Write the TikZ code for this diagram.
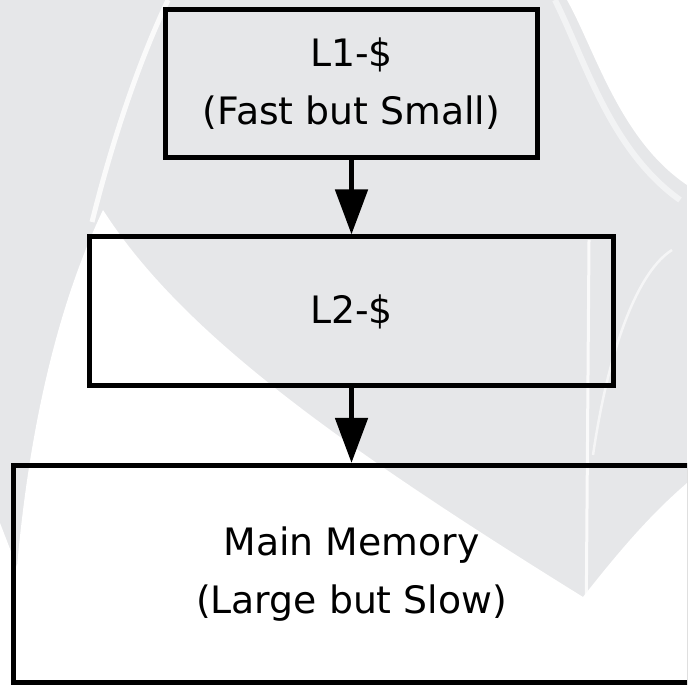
\documentclass[tikz,border=0pt]{standalone}
\usepackage{fontspec}
\setmainfont{DejaVu Sans}
\usetikzlibrary{positioning,arrows.meta}
\definecolor{wmgray}{HTML}{E6E7E9}

\begin{document}
\begin{tikzpicture}[x=0.02cm,y=-0.02cm,
        cache/.style = {draw, line width=0.1cm, align=center, inner sep=0pt,
                        font=\fontsize{21.5}{33}\selectfont},
        link/.style = {line width=0.1cm, -{Triangle[length=0.9cm,width=0.64cm]}},
        node distance={1.49cm}]
        \useasboundingbox (0,0) rectangle (687,688);
        \clip (0,0) rectangle (687,688);
        % watermark behind the boxes
        \fill[wmgray] (0,0) rectangle (687,688);
        \fill[white] (567,0) .. controls (595,50) and (620,140) .. (687,185) -- (687,0) -- cycle;
        \fill[white] (103,210) .. controls (60,300) and (30,420) .. (17,567) -- (0,523) -- (0,688)
                -- (687,688) -- (687,483) .. controls (650,515) and (620,550) .. (583,597)
                .. controls (330,440) and (180,330) .. (103,210) -- cycle;
        \draw[white, line width=0.1cm, opacity=0.8] (168,0) .. controls (135,70) and (110,150) .. (92,222);
        \draw[white, line width=0.12cm, opacity=0.5] (555,0) .. controls (585,60) and (610,150) .. (680,200);
        \draw[white, line width=0.06cm, opacity=0.8] (589,240) -- (586,640);
        \draw[white, line width=0.05cm, opacity=0.6] (593,455) .. controls (610,340) and (640,270) .. (672,250);
        % the three levels
        \node[cache, minimum width=7.44cm, minimum height=2.96cm] (l1) at (351.5,83.5) {L1-\$\\(Fast but Small)};
        \node[cache, minimum width=10.5cm, minimum height=2.98cm] (l2) [below=of l1] {L2-\$};
        \node[cache, minimum width=13.54cm, minimum height=4.34cm] (mem) [below=of l2] {Main Memory\\(Large but Slow)};
        \draw[link] (l1) -- (l2);
        \draw[link] (l2) -- (mem);
\end{tikzpicture}
\end{document}
